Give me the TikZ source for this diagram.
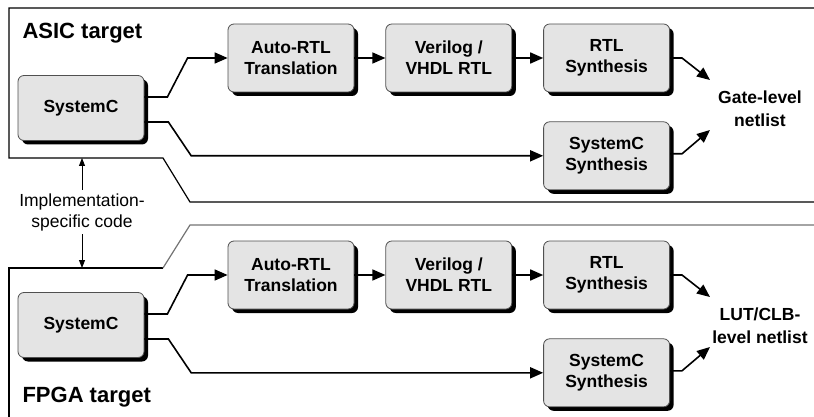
\documentclass[tikz,border=0pt]{standalone}
\usepackage{fontspec}
\setmainfont{Liberation Sans}
\usepackage{xcolor}
\usepackage{tikz}
\usetikzlibrary{positioning,shadows,arrows.meta}
\definecolor{boxfill}{HTML}{E4E4E4}
\definecolor{boxline}{HTML}{505050}

\begin{document}
\begin{tikzpicture}[
        x=1pt, y=-1pt,
        block/.style={
            draw=boxline,
            fill=boxfill,
            line width=0.8pt,
            rounded corners=6pt,
            minimum width=126pt,
            minimum height=68pt,
            align=center,
            font=\fontsize{17.5}{21}\selectfont\bfseries,
            drop shadow={shadow xshift=4pt, shadow yshift=-4pt, opacity=1, fill=black}
        },
        flow/.style={
            -{Triangle[length=13pt,width=11pt]},
            line width=1.6pt,
            rounded corners=0pt
        },
        note/.style={
            -{Triangle[length=8pt,width=6pt]},
            line width=0.9pt
        },
        panel/.style={
            line width=1.2pt
        },
        title/.style={
            anchor=west,
            font=\fontsize{22}{26}\selectfont\bfseries
        },
        result/.style={
            align=center,
            font=\fontsize{17.5}{23}\selectfont\bfseries
        },
        node distance=31pt
    ]

    \useasboundingbox (0,0) rectangle (814,417);

    % ASIC panel
    \draw[panel] (814,8) -- (9,8) -- (9,158) -- (163,158) -- (190,202) -- (814,202);
    \node[title] (asic) at (19,33) {ASIC target};

    \node[block, minimum height=65pt] (sc1) at (81,108) {SystemC};
    \node[block] (auto1) at (291,58) {Auto-RTL\\Translation};
    \node[block, right=of auto1] (ver1) {Verilog /\\VHDL RTL};
    \node[block, right=of ver1] (rsyn1) {RTL\\Synthesis};
    \node[block, below=29pt of rsyn1] (ssyn1) {SystemC\\Synthesis};
    \node[result] (net1) at (760,109) {Gate-level\\netlist};
    \coordinate (net1a) at (710,80);
    \coordinate (net1b) at (710,130);

    \draw[flow] ([yshift=11pt]sc1.east) -- ++(23,0) -- ([xshift=-40pt]auto1.west) -- (auto1.west);
    \draw[flow] ([yshift=-14pt]sc1.east) -- ++(24,0) -- ([xshift=-352pt]ssyn1.west) -- (ssyn1.west);
    \draw[flow] (auto1) -- (ver1);
    \draw[flow] (ver1) -- (rsyn1);
    \draw[flow] (rsyn1.east) -- ++(12,0) -- (net1a);
    \draw[flow] ([yshift=2pt]ssyn1.east) -- ++(12,0) -- (net1b);

    % implementation-specific code between the panels
    \node[align=center, font=\fontsize{17.5}{21}\selectfont] (impl) at (82,212) {Implementation-\\specific code};
    \coordinate (asicedge) at (82,158);
    \coordinate (fpgaedge) at (82,268);
    \draw[note] (impl.north) -- (asicedge);
    \draw[note] (impl.south) -- (fpgaedge);

    % FPGA panel
    \draw[panel] (9,417) -- (9,268) -- (163,268);
    \draw[panel, black!55] (163,268) -- (190,225) -- (814,225);
    \node[title] (fpga) at (19,397) {FPGA target};

    \node[block, minimum height=65pt] (sc2) at (81,325) {SystemC};
    \node[block] (auto2) at (291,275) {Auto-RTL\\Translation};
    \node[block, right=of auto2] (ver2) {Verilog /\\VHDL RTL};
    \node[block, right=of ver2] (rsyn2) {RTL\\Synthesis};
    \node[block, below=29pt of rsyn2] (ssyn2) {SystemC\\Synthesis};
    \node[result] (net2) at (760,326) {LUT/CLB-\\level netlist};
    \coordinate (net2a) at (710,297);
    \coordinate (net2b) at (710,347);

    \draw[flow] ([yshift=11pt]sc2.east) -- ++(23,0) -- ([xshift=-40pt]auto2.west) -- (auto2.west);
    \draw[flow] ([yshift=-14pt]sc2.east) -- ++(24,0) -- ([xshift=-352pt]ssyn2.west) -- (ssyn2.west);
    \draw[flow] (auto2) -- (ver2);
    \draw[flow] (ver2) -- (rsyn2);
    \draw[flow] (rsyn2.east) -- ++(12,0) -- (net2a);
    \draw[flow] ([yshift=2pt]ssyn2.east) -- ++(12,0) -- (net2b);

\end{tikzpicture}
\end{document}
